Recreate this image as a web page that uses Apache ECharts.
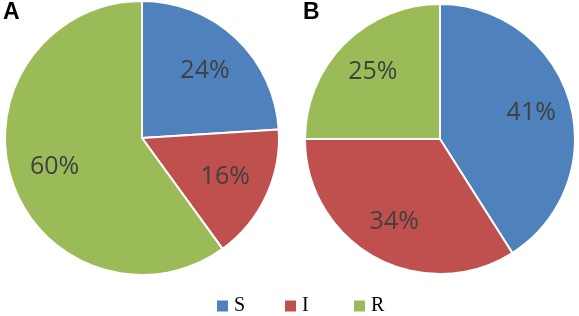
<!DOCTYPE html>
<html>
<head>
<meta charset="utf-8">
<script src="https://cdn.jsdelivr.net/npm/echarts@6/dist/echarts.min.js"></script>
<style>html,body{margin:0;padding:0;background:#fff}#c{width:579px;height:316px}</style>
</head>
<body>
<div id="c"></div>
<script>
const categories = ['S', 'I', 'R'];
const valuesA = [24, 16, 60];
const valuesB = [41, 34, 25];
const panelLabels = ['A', 'B'];
const colors = ['#4F81BD', '#C0504D', '#9BBB59'];

const chart = echarts.init(document.getElementById('c'), null, {renderer: 'canvas'});

function pieData(vals) {
  return categories.map((n, i) => ({name: n, value: vals[i], itemStyle: {color: colors[i]}}));
}
function basePie(center, r, vals) {
  return {
    type: 'pie', center: center, radius: [0, r], startAngle: 90, clockwise: true,
    animation: false, silent: true,
    itemStyle: {borderColor: '#fff', borderWidth: 2},
    label: {show: false}, labelLine: {show: false},
    data: pieData(vals)
  };
}
function labelPie(center, r, vals, innerRatio) {
  return {
    type: 'pie', center: center, radius: [Math.round(r * innerRatio), r], startAngle: 90, clockwise: true,
    animation: false, silent: true,
    itemStyle: {color: 'transparent', borderWidth: 0},
    label: {show: true, position: 'inside', formatter: '{c}%', color: '#404040',
            fontFamily: 'Open Sans', fontSize: 25},
    labelLine: {show: false},
    data: categories.map((n, i) => ({name: n, value: vals[i]}))
  };
}
const legendLefts = [215, 283, 352];
const legends = categories.map((c, i) => ({
  data: [c], left: legendLefts[i], top: 296, padding: 0, icon: 'rect', itemWidth: 13, itemHeight: 13,
  selectedMode: false,
  textStyle: {fontFamily: 'Liberation Serif', fontSize: 20, color: '#000', padding: [0, 0, 0, 0]}
}));

chart.setOption({
  backgroundColor: '#fff',
  title: [
    {text: panelLabels[0], left: 3, top: 1, padding: 0, textStyle: {fontFamily: 'Liberation Sans', fontWeight: 'bold', fontSize: 23, color: '#000'}},
    {text: panelLabels[1], left: 303, top: 1, padding: 0, textStyle: {fontFamily: 'Liberation Sans', fontWeight: 'bold', fontSize: 23, color: '#000'}}
  ],
  legend: legends,
  series: [
    basePie([142, 138], 137, valuesA),
    basePie([440, 139], 135, valuesB),
    labelPie([142, 138], 137, valuesA, 0.3),
    labelPie([440, 139], 135, valuesB, 0.36)
  ]
});
</script>
</body>
</html>
